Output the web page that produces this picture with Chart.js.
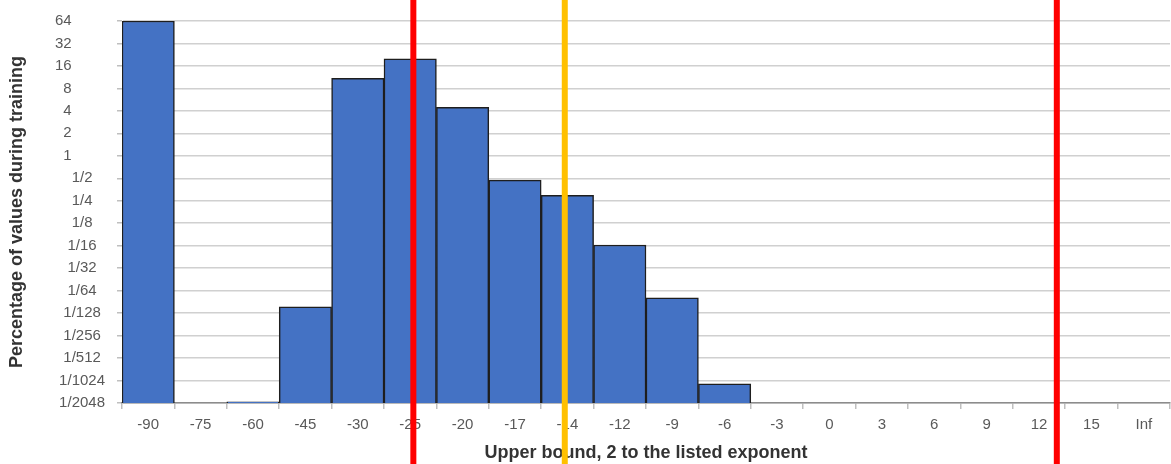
<!DOCTYPE html>
<html>
<head>
<meta charset="utf-8">
<script src="https://cdn.jsdelivr.net/npm/chart.js@4/dist/chart.umd.min.js"></script>
<style>
  html, body { margin: 0; padding: 0; background: #fff; }
  #wrap { width: 1171px; height: 464px; position: relative; }
</style>
</head>
<body>
<div id="wrap"><canvas id="histogram"></canvas></div>
<script>
// x categories: upper bound exponent of each bin
const categories = ["-90", "-75", "-60", "-45", "-30", "-25", "-20", "-17", "-14", "-12",
  "-9", "-6", "-3", "0", "3", "6", "9", "12", "15", "Inf"];

// percentage of values in each bin (null = empty bin)
const percentages = [64, null, 0.000505, 0.0095, 10.9, 20, 4.47, 0.473, 0.295, 0.0639,
  0.0125, 0.00088, null, null, null, null, null, null, null, null];

// y ticks are powers of two, 2^-11 .. 2^6
const yExponents = [-11, -10, -9, -8, -7, -6, -5, -4, -3, -2, -1, 0, 1, 2, 3, 4, 5, 6];
const yTickLabels = ["1/2048", "1/1024", "1/512", "1/256", "1/128", "1/64", "1/32", "1/16",
  "1/8", "1/4", "1/2", "1", "2", "4", "8", "16", "32", "64"];

// range markers, in category-index units
const markerPositions = [5.06, 7.95, 17.34];
const markerColors = ["#ff0000", "#ffc000", "#ff0000"];

const canvas = document.getElementById("histogram");

function padLabel(label) {
  // mimic the "# ?/????" number format alignment
  if (label.indexOf("/") === -1) return label + " ".repeat(8);
  const denom = label.split("/")[1];
  return label + " ".repeat(4 - denom.length);
}

const markerPlugin = {
  id: "markers",
  afterDraw(chart) {
    const { ctx } = chart;
    const x = chart.scales.x;
    ctx.save();
    ctx.lineWidth = 6;
    markerPositions.forEach((pos, i) => {
      const px = x.getPixelForValue(pos);
      ctx.strokeStyle = markerColors[i];
      ctx.beginPath();
      ctx.moveTo(px, 0);
      ctx.lineTo(px, chart.height);
      ctx.stroke();
    });
    ctx.restore();
  },
};

new Chart(canvas, {
  type: "bar",
  data: {
    labels: categories,
    datasets: [
      {
        data: percentages,
        backgroundColor: "#4472c4",
        borderColor: "#1e1e1e",
        borderWidth: 1.5,
        borderSkipped: "bottom",
        categoryPercentage: 1,
        barPercentage: 1,
      },
    ],
  },
  options: {
    responsive: true,
    maintainAspectRatio: false,
    animation: false,
    layout: { padding: { top: 18, right: 1, left: 0, bottom: 0 } },
    plugins: {
      legend: { display: false },
      tooltip: { enabled: false },
    },
    scales: {
      x: {
        afterFit: (scale) => { scale.height = 61; },
        border: { color: "#8c8c8c", width: 1.5 },
        grid: {
          drawOnChartArea: false,
          drawTicks: true,
          tickLength: 6,
          color: "#bfbfbf",
          lineWidth: 1.5,
        },
        ticks: {
          color: "#595959",
          font: { family: "Liberation Sans", size: 15 },
          padding: 7,
          autoSkip: false,
          maxRotation: 0,
        },
        title: {
          display: true,
          text: "Upper bound, 2 to the listed exponent",
          color: "#333333",
          font: { family: "Liberation Sans", size: 18, weight: "bold" },
          padding: { top: 0, bottom: 0 },
        },
      },
      y: {
        type: "logarithmic",
        min: Math.pow(2, -11),
        max: 64,
        afterFit: (scale) => { scale.width = 122; },
        afterBuildTicks: (scale) => {
          scale.ticks = yExponents.map((e) => ({ value: Math.pow(2, e) }));
        },
        border: { display: true, color: "#d9d9d9", width: 1 },
        grid: {
          color: "#d0d0d0",
          lineWidth: 1.5,
          drawTicks: true,
          tickLength: 5,
          tickColor: "#bfbfbf",
        },
        ticks: {
          autoSkip: false,
          color: "#595959",
          font: { family: "Liberation Sans", size: 15 },
          padding: 12,
          callback: (value) => {
            const e = Math.round(Math.log2(value));
            const idx = yExponents.indexOf(e);
            return idx === -1 ? "" : padLabel(yTickLabels[idx]);
          },
        },
        title: {
          display: true,
          text: "Percentage of values during training",
          color: "#333333",
          font: { family: "Liberation Sans", size: 18, weight: "bold" },
          padding: { top: 6, bottom: 0 },
        },
      },
    },
  },
  plugins: [markerPlugin],
});
</script>
</body>
</html>
